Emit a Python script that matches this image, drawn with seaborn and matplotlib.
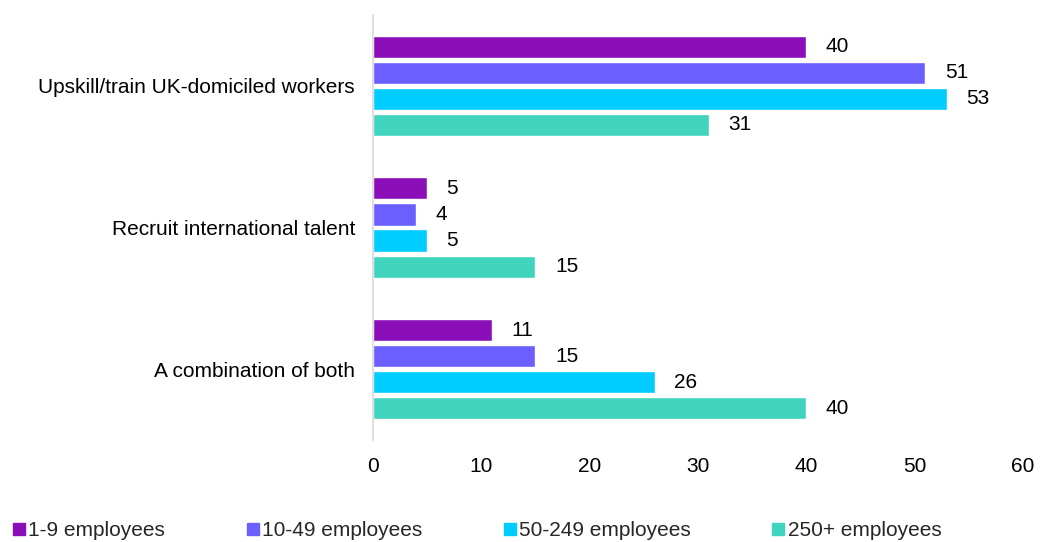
import matplotlib
matplotlib.use("Agg")
import matplotlib.pyplot as plt
from matplotlib.lines import Line2D
import seaborn as sns
import pandas as pd

# Workforce strategy by business size (% of respondents)
categories = ["Upskill/train UK-domiciled workers",
              "Recruit international talent",
              "A combination of both"]
sizes = ["1-9 employees", "10-49 employees", "50-249 employees", "250+ employees"]
values_1_9 = [40, 5, 11]
values_10_49 = [51, 4, 15]
values_50_249 = [53, 5, 26]
values_250_plus = [31, 15, 40]
x_ticks = [0, 10, 20, 30, 40, 50, 60]

colors = ["#8B0FB8", "#6B5FFF", "#00CCFF", "#40D4BE"]

series = [values_1_9, values_10_49, values_50_249, values_250_plus]
rows = []
for size, vals in zip(sizes, series):
    for cat, v in zip(categories, vals):
        rows.append({"category": cat, "size": size, "value": v})
df = pd.DataFrame(rows)

sns.set_theme(style="white")
plt.rcParams["font.family"] = ["Liberation Sans", "DejaVu Sans"]

FS = 15

fig = plt.figure(figsize=(10.41, 5.42), dpi=100)
ax = fig.add_axes([0.3583, 0.1882, 0.6244, 0.7841])

sns.barplot(data=df, y="category", x="value", hue="size",
            order=categories, hue_order=sizes, palette=colors,
            orient="h", width=0.737, gap=0.15, legend=False, ax=ax,
            saturation=1, errorbar=None)

# Value labels to the right of each bar
for container in ax.containers:
    ax.bar_label(container, fmt="%d", padding=14, fontsize=FS, color="#000000")

ax.set_xlim(0, 60)
ax.set_ylim(2.5, -0.5)
ax.set_xticks(x_ticks)
ax.set_xticklabels([str(t) for t in x_ticks])
ax.set_xlabel("")
ax.set_ylabel("")
ax.tick_params(axis="both", length=0, labelsize=FS, colors="#000000")
ax.tick_params(axis="x", pad=12)
ax.tick_params(axis="y", pad=13)
for s in ["top", "right", "bottom"]:
    ax.spines[s].set_visible(False)
ax.spines["left"].set_color("#D9D9D9")
ax.spines["left"].set_linewidth(1.2)
ax.grid(False)

handles = [Line2D([0], [0], marker="s", linestyle="none", markersize=8,
                  markerfacecolor=c, markeredgecolor=c) for c in colors]
fig.legend(handles, sizes, loc="lower left", bbox_to_anchor=(0.0, -0.02),
           ncol=4, frameon=False, fontsize=FS, handlelength=0.6,
           handletextpad=0.15, columnspacing=3.9, borderaxespad=0.2)

fig.savefig("out.png", dpi=100)
